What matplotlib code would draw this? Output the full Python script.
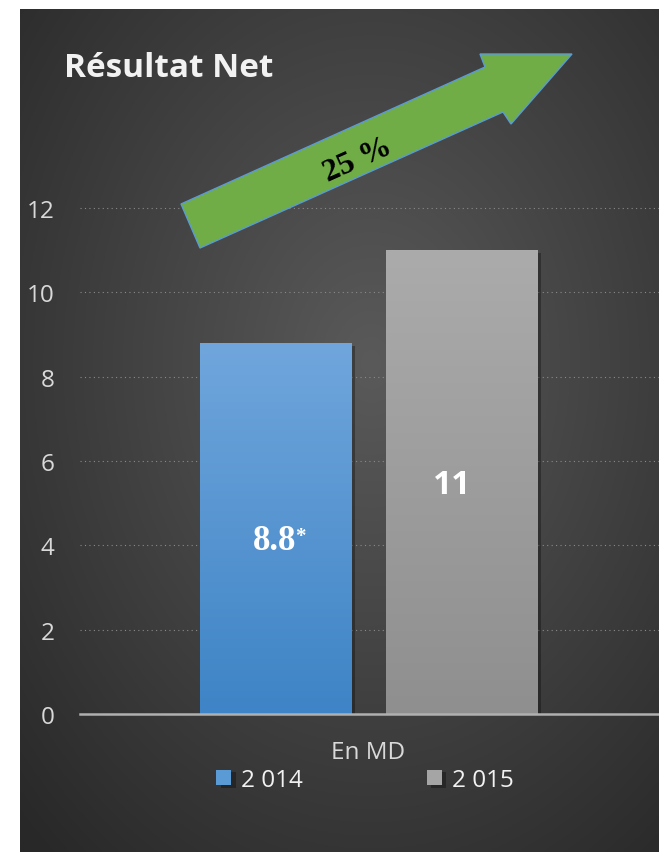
import numpy as np
import matplotlib
matplotlib.use("Agg")
import matplotlib.pyplot as plt
from matplotlib.patches import Polygon
from matplotlib import patheffects as pe

# données
category = "En MD"
years = ["2 014", "2 015"]
values = [8.8, 11]
value_labels = ["8.8", "11"]
yticks = [0, 2, 4, 6, 8, 10, 12]
growth_label = "25 %"

W, H = 659, 853
fig = plt.figure(figsize=(W / 100, H / 100), dpi=100, facecolor="white")

# fond sombre en dégradé radial
bg = fig.add_axes([20 / W, 0, 1 - 20 / W, 1 - 10 / H], zorder=-5)
yy, xx = np.mgrid[0:1:400j, 0:1:300j]
d = np.sqrt(((xx - 0.55) / 0.78) ** 2 + ((yy - 0.42) / 0.78) ** 2)
d = np.clip(d, 0, 1)
c = (90 + (40 - 90) * d) / 255.0
bg.imshow(np.dstack([c, c, c]), aspect="auto", extent=[0, 1, 0, 1])
bg.set_axis_off()

# axes principaux
ax = fig.add_axes([80 / W, (H - 715) / H, 577 / W, (715 - 209) / H], zorder=1)
ax.patch.set_visible(False)

bar_w = 0.2617
gap = 0.0607
offsets = [-(bar_w + gap) / 2, (bar_w + gap) / 2]
face = ["#5b9bd5", "#a5a5a5"]
grad = [("#70a6dc", "#3e84c6"), ("#ababab", "#8f8f8f")]

bars = []
for i in range(len(years)):
    b = ax.bar(offsets[i], values[i], width=bar_w, color=face[i], label=years[i], zorder=3)
    p = b.patches[0]
    p.set_path_effects([pe.SimplePatchShadow(offset=(3, -2), shadow_rgbFace="black", alpha=0.3), pe.Normal()])
    top = np.array(matplotlib.colors.to_rgb(grad[i][0]))
    bot = np.array(matplotlib.colors.to_rgb(grad[i][1]))
    t = np.linspace(0, 1, 256)[:, None]
    img = (top * (1 - t) + bot * t)[:, None, :]
    x0, y0 = p.get_x(), p.get_y()
    im = ax.imshow(img, aspect="auto", extent=[x0, x0 + p.get_width(), y0, y0 + p.get_height()],
                   zorder=4, origin="upper")
    im.set_clip_path(p)
    bars.append(b)
ax.set_xlim(-0.5, 0.5)
ax.set_ylim(0, 12)

# grille
for v in yticks[1:]:
    ax.axhline(v, color="#8a8a8a", lw=0.8, linestyle=(0, (1, 3)), zorder=1, clip_on=False,
               xmax=1.004)
ax.axhline(0, color="#b0b0b0", lw=1.8, zorder=5, clip_on=False, xmax=1.004)

for s in ax.spines.values():
    s.set_visible(False)

ax.set_yticks(yticks)
ax.set_yticklabels([str(v) for v in yticks])
ax.tick_params(axis="y", length=0, pad=18.5, labelsize=17.5, labelcolor="#d9d9d9")
for lab in ax.get_yticklabels():
    lab.set_fontfamily("Open Sans")
ax.set_xticks([0])
ax.set_xticklabels([category], fontfamily="Open Sans", fontsize=17.5, color="#d9d9d9")
ax.tick_params(axis="x", length=0, pad=19)

# étiquettes de valeurs
ax.annotate(value_labels[0], xy=(offsets[0], values[0] / 2), xytext=(-1, -9), textcoords="offset points",
            ha="center", va="center", fontsize=25, fontweight="bold", family="Liberation Serif",
            color="white", zorder=6)
ax.annotate("*", xy=(offsets[0], values[0] / 2), xytext=(18, 1.5), textcoords="offset points",
            ha="center", va="top", fontsize=15, fontweight="bold", family="Liberation Serif",
            color="white", zorder=6)
ax.annotate(value_labels[1], xy=(offsets[1], values[1] / 2), xytext=(-7, -2), textcoords="offset points",
            ha="center", va="center", fontsize=24, fontweight="bold", family="Open Sans",
            color="white", zorder=6)

# légende
fig.legend(handles=[b.patches[0] for b in bars], labels=years, loc="center",
           bbox_to_anchor=(365 / W, 1 - 781 / H), ncol=2, frameon=False,
           prop={"family": "Open Sans", "size": 17.5}, labelcolor="#f2f2f2",
           handlelength=0.62, handleheight=0.62, handletextpad=0.4, columnspacing=5.1)

# titre
fig.text(64 / W, 1 - 77 / H, "Résultat Net", fontsize=24, fontweight="bold", family="Open Sans",
         color="#f2f2f2", ha="left", va="baseline")

# flèche de croissance
arrow_px = [(181, 205), (485, 68), (480, 55), (572, 55), (511, 125), (503, 113), (200, 249)]
arrow = Polygon([(x / W, 1 - y / H) for x, y in arrow_px], closed=True, transform=fig.transFigure,
                facecolor="#70ad47", edgecolor="#5b9bd5", lw=1, zorder=10)
fig.patches.append(arrow)
fig.text(358 / W, 1 - 161 / H, growth_label, rotation=24, rotation_mode="anchor", ha="center",
         va="center", fontsize=23, fontweight="bold", family="Liberation Serif", color="black",
         zorder=11)

fig.savefig("out.png", dpi=100, facecolor="white")
